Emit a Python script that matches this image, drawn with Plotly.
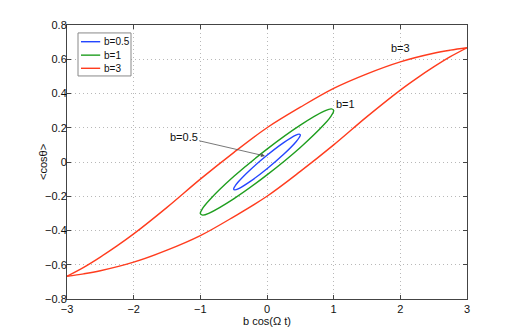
import plotly.graph_objects as go

# b = 3 loop: upper branch (x increasing) and lower branch (x decreasing)
red_upper_x = [-3, -2.75, -2.5, -2.25, -2, -1.5, -1, -0.5, 0, 0.5, 1, 1.5, 2, 2.5, 2.75, 3]
red_upper_y = [-0.667, -0.615, -0.555, -0.49, -0.42, -0.265, -0.1, 0.055, 0.2, 0.32, 0.43, 0.515, 0.585, 0.635, 0.653, 0.667]
red_lower_x = [3, 2.75, 2.5, 2.25, 2, 1.5, 1, 0.5, 0, -0.5, -1, -1.5, -2, -2.5, -2.75, -3]
red_lower_y = [0.667, 0.615, 0.555, 0.49, 0.42, 0.265, 0.1, -0.055, -0.2, -0.32, -0.43, -0.515, -0.585, -0.635, -0.653, -0.667]

# b = 1 loop (closed)
green_x = [0, -0.5, -0.866, -0.966, -1, -0.966, -0.866, -0.5, 0, 0.5, 0.866, 0.966, 1, 0.966, 0.866, 0.5, 0]
green_y = [0.075, -0.085, -0.223, -0.271, -0.301, -0.31, -0.298, -0.215, -0.075, 0.085, 0.223, 0.271, 0.301, 0.31, 0.298, 0.215, 0.075]

# b = 0.5 loop (closed)
blue_x = [0, -0.25, -0.433, -0.483, -0.5, -0.483, -0.433, -0.25, 0, 0.25, 0.433, 0.483, 0.5, 0.483, 0.433, 0.25, 0]
blue_y = [0.039, -0.045, -0.117, -0.143, -0.158, -0.163, -0.157, -0.113, -0.039, 0.045, 0.117, 0.143, 0.158, 0.163, 0.157, 0.113, 0.039]

series_names = ["b=0.5", "b=1", "b=3"]
x_ticks = [-3, -2, -1, 0, 1, 2, 3]
y_ticks = [-0.8, -0.6, -0.4, -0.2, 0, 0.2, 0.4, 0.6, 0.8]

BLUE = "#2446ff"
GREEN = "#1f9e1f"
RED = "#ff3c1e"
colors = [BLUE, GREEN, RED]
LW = 1.4
FAM = "Liberation Sans, Arial, Helvetica, sans-serif"

fig = go.Figure()
fig.add_trace(go.Scatter(x=blue_x, y=blue_y, mode="lines", name=series_names[0],
                         line=dict(color=BLUE, width=LW, shape="spline", smoothing=1)))
fig.add_trace(go.Scatter(x=green_x, y=green_y, mode="lines", name=series_names[1],
                         line=dict(color=GREEN, width=LW, shape="spline", smoothing=1)))
fig.add_trace(go.Scatter(x=red_upper_x, y=red_upper_y, mode="lines", name=series_names[2],
                         line=dict(color=RED, width=LW, shape="spline", smoothing=1)))
fig.add_trace(go.Scatter(x=red_lower_x, y=red_lower_y, mode="lines", name=series_names[2],
                         line=dict(color=RED, width=LW, shape="spline", smoothing=1)))

font = dict(family=FAM, size=11, color="#111")

axis_common = dict(
    showline=True, linecolor="#444", linewidth=1, mirror="ticks",
    ticks="inside", ticklen=4, tickcolor="#444",
    showgrid=True, gridcolor="#b8b8b8", griddash="1px,3px", gridwidth=1,
    zeroline=False, tickfont=font,
)

fig.update_xaxes(range=[-3, 3], tickvals=x_ticks, ticklabelstandoff=0, **axis_common)
fig.update_yaxes(range=[-0.8, 0.8], tickvals=y_ticks, ticklabelstandoff=-3, **axis_common)

# axis titles
fig.add_annotation(x=0.5, y=0, xref="paper", yref="paper", yshift=-22,
                   text="b cos(Ω t)", showarrow=False, font=font,
                   xanchor="center", yanchor="middle")
fig.add_annotation(x=0, y=0.5, xref="paper", yref="paper", xshift=-24,
                   text="<cosθ>", textangle=-90, showarrow=False, font=font,
                   xanchor="center", yanchor="middle")

# curve labels
fig.add_annotation(x=-0.03, y=0.035, ax=-1.25, ay=0.145, axref="x", ayref="y",
                   text="b=0.5", showarrow=True, arrowhead=2, arrowsize=1,
                   arrowwidth=0.8, arrowcolor="#555", font=font)
fig.add_annotation(x=1.17, y=0.34, text="b=1", showarrow=False, font=font)
fig.add_annotation(x=2.0, y=0.663, text="b=3", showarrow=False, font=font)

# legend drawn as box + samples
fig.add_shape(type="rect", xref="paper", yref="paper",
              x0=0.0275, x1=0.16, y0=0.814, y1=0.971,
              line=dict(color="#888", width=1), fillcolor="white", layer="above")
leg_y = [0.939, 0.890, 0.842]
for name, col, yy in zip(series_names, colors, leg_y):
    fig.add_shape(type="line", xref="paper", yref="paper",
                  x0=0.035, x1=0.083, y0=yy, y1=yy,
                  line=dict(color=col, width=LW), layer="above")
    fig.add_annotation(x=0.088, y=yy, xref="paper", yref="paper", text=name,
                       showarrow=False, xanchor="left", yanchor="middle",
                       font=dict(family=FAM, size=10, color="#111"))

fig.update_layout(
    width=509, height=328,
    margin=dict(l=59, r=50, t=17, b=37),
    paper_bgcolor="white", plot_bgcolor="white",
    font=font,
    showlegend=False,
)

fig.write_html("out.html")
